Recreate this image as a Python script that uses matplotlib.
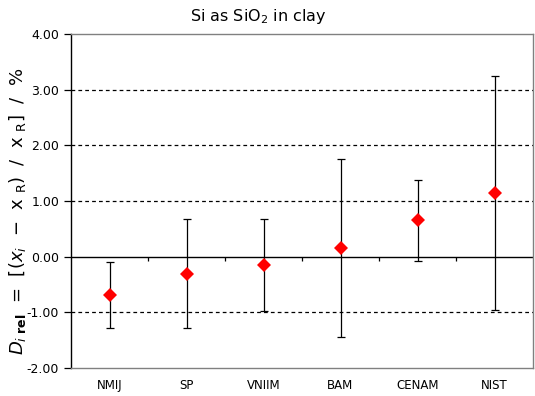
import matplotlib
matplotlib.use("Agg")
import matplotlib.pyplot as plt
import numpy as np

labs = ["NMIJ", "SP", "VNIIM", "BAM", "CENAM", "NIST"]
vals = [-0.69, -0.31, -0.15, 0.15, 0.65, 1.14]
upper = [-0.10, 0.67, 0.67, 1.75, 1.37, 3.25]
lower = [-1.28, -1.28, -0.98, -1.45, -0.08, -0.95]
yticks = [-2.0, -1.0, 0.0, 1.0, 2.0, 3.0, 4.0]

plt.rcParams['mathtext.fontset'] = 'dejavusans'
fig = plt.figure(figsize=(5.35, 3.96), dpi=100)
ax = fig.add_axes([71/535, 1-368/396, 462/535, 334/396])

x = np.arange(len(labs))
v = np.array(vals)
err = [v - np.array(lower), np.array(upper) - v]
ax.errorbar(x, v, yerr=err, fmt='none', ecolor='black', elinewidth=0.9,
            capsize=3, capthick=0.9, zorder=3)
ax.plot(x, v, linestyle='none', marker='D', markersize=7.5, color='#ff0000',
        markeredgewidth=0, zorder=4)

ax.set_xlim(-0.5, len(labs) - 0.5)
ax.set_ylim(-2, 4)
ax.set_yticks(yticks)
ax.set_yticklabels([f"{t:.2f}" for t in yticks], fontsize=9)
for t in yticks:
    if t not in (0.0, -2.0, 4.0):
        ax.axhline(t, color='black', linestyle=(0, (3, 2.5)), linewidth=0.9, zorder=1)
ax.axhline(0, color='black', linewidth=1.0, zorder=2)

# category boundary ticks on the zero line
bounds = np.arange(len(labs) + 1) - 0.5
ax.vlines(bounds[1:-1], -0.075, 0, color='black', linewidth=0.9, zorder=2)

ax.set_xticks(x)
ax.set_xticklabels(labs, fontsize=8.5)
ax.tick_params(axis='x', length=0, pad=8)
ax.tick_params(axis='y', direction='out', length=5, width=0.9, color='black')

for s in ('top', 'right', 'bottom'):
    ax.spines[s].set_color('#808080')
    ax.spines[s].set_linewidth(1.0)
ax.spines['left'].set_color('black')
ax.spines['left'].set_linewidth(1.0)

ax.set_ylabel(r'$D_{i\ \mathbf{rel}}$  =  [($x_i$  $-$  x $_\mathrm{R}$)  /  x $_\mathrm{R}$]  /  %',
              fontsize=13)
ax.yaxis.set_label_coords(-0.093, 0.47)
fig.text(258/535, 1-17/396, r'Si as SiO$_2$ in clay', fontsize=11.5, ha='center', va='center')

fig.savefig("out.png", dpi=100, facecolor='white')
